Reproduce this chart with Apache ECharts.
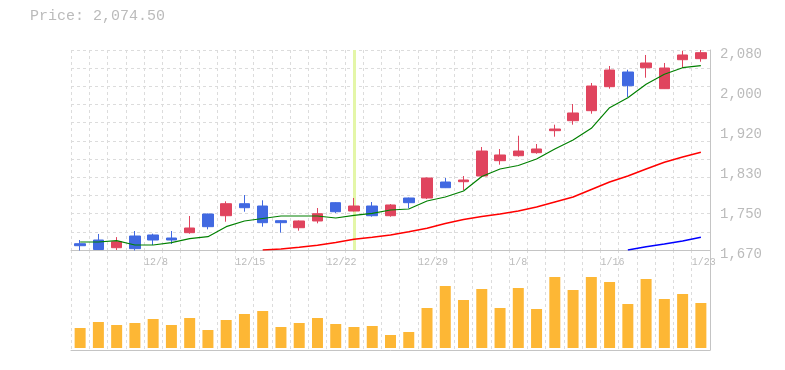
<!DOCTYPE html>
<html><head><meta charset="utf-8">
<script src="https://cdn.jsdelivr.net/npm/echarts@6/dist/echarts.min.js"></script>
<style>html,body{margin:0;padding:0;background:#fff}#c{width:785px;height:370px}</style>
</head><body><div id="c"></div>
<script>
const dates = ['12/2','12/3','12/4','12/5','12/8','12/9','12/10','12/11','12/12','12/15','12/16','12/17','12/18','12/19','12/22','12/23','12/24','12/25','12/26','12/29','12/30','1/5','1/6','1/7','1/8','1/9','1/13','1/14','1/15','1/16','1/19','1/20','1/21','1/22','1/23'];
const opens  = [1682.9,1690.5,1674.7,1698.7,1700.8,1694.6,1705.5,1743.8,1740.3,1764.9,1760.2,1730.1,1715.7,1729.5,1767.0,1749.9,1760.2,1740.3,1776.6,1776.6,1809.4,1810.0,1821.7,1853.1,1863.3,1869.5,1914.6,1935.1,1955.6,2004.8,2034.9,2043.7,2000.7,2060.1,2062.2];
const closes = [1678.8,1671.0,1687.0,1672.7,1690.5,1690.5,1715.1,1717.8,1764.9,1756.7,1726.0,1726.0,1729.5,1744.4,1748.5,1760.2,1740.3,1762.3,1767.0,1817.6,1797.7,1813.5,1872.9,1864.8,1872.9,1877.1,1918.0,1950.9,2006.2,2039.0,2006.8,2053.4,2043.1,2069.8,2074.5];
const lows   = [1669.0,1670.0,1670.0,1669.0,1680.2,1682.3,1703.4,1712.4,1728.0,1748.5,1717.8,1705.5,1709.6,1724.7,1745.9,1749.0,1738.3,1738.3,1755.5,1774.5,1797.0,1793.0,1819.7,1844.9,1861.3,1867.4,1902.3,1926.9,1949.4,2000.7,1983.7,2023.2,2000.0,2043.1,2056.0];
const highs  = [1690.5,1702.8,1696.4,1708.9,1703.4,1708.9,1739.7,1744.5,1769.8,1782.7,1771.9,1731.5,1730.5,1756.1,1768.0,1776.6,1768.4,1764.3,1777.5,1818.5,1817.6,1821.7,1881.2,1877.0,1904.3,1887.3,1926.9,1969.3,2012.4,2047.2,2039.6,2069.8,2053.4,2078.6,2080.0];
const ma5  = [1686.4,1686.4,1689.1,1680.3,1680.3,1685.0,1693.2,1697.3,1717.8,1729.5,1734.6,1739.7,1739.7,1739.7,1735.6,1741.1,1745.2,1752.0,1754.1,1770.5,1778.7,1791.0,1820.7,1836.1,1843.2,1856.6,1877.1,1895.5,1919.5,1961.7,1982.2,2009.7,2030.2,2043.7,2047.8];
const ma25 = [null,null,null,null,null,null,null,null,null,null,1670.0,1672.0,1675.5,1679.6,1685.4,1691.9,1696.0,1700.8,1707.5,1714.5,1724.3,1732.5,1738.7,1743.8,1750.0,1758.2,1768.4,1778.7,1794.0,1809.4,1821.7,1836.1,1849.8,1860.7,1870.3];
const ma75 = [null,null,null,null,null,null,null,null,null,null,null,null,null,null,null,null,null,null,null,null,null,null,null,null,null,null,null,null,null,null,1670.0,1676.8,1682.3,1688.5,1696.0];
const volumes = [20,26,23,25,29,23,30,18,28,34,37,21,25,30,24,21,22,13,16,40,62,48,59,40,60,39,71,58,71,66,44,69,49,54,45];
const dateLabelIdx = [4,9,14,19,24,29,34];
const highlightIdx = 15;
const lastPrice = 2074.5;
const priceMin = 1670, priceMax = 2080, priceStep = 82;

const FONT = '"Liberation Mono", "Courier New", monospace';
const GRID_LINE = {show:true, lineStyle:{color:'#dcdcdc', type:[3,3], width:1}};
const AXIS_LINE = {show:true, onZero:false, lineStyle:{color:'#c4c4c4', width:1}};

const chart = echarts.init(document.getElementById('c'), null, {renderer:'canvas'});
chart.setOption({
  animation:false,
  title:{text:'Price: ' + lastPrice.toLocaleString('en-US',{minimumFractionDigits:2}), left:30, top:9, padding:0,
    textStyle:{fontFamily:FONT, fontSize:15, fontWeight:'normal', color:'#bbbbbb'}},
  grid:[
    {left:71, right:75, top:50, height:200},
    {left:71, right:75, top:250, height:100}
  ],
  xAxis:[
    {type:'category', gridIndex:0, data:dates, boundaryGap:true, axisLine:AXIS_LINE, axisTick:{show:false}, axisLabel:{show:false},
      splitLine:Object.assign({interval:0}, GRID_LINE)},
    {type:'value', gridIndex:0, min:0, max:dates.length, position:'bottom', axisLine:{show:false}, axisTick:{show:false}, splitLine:{show:false},
      axisLabel:{show:true, customValues:dateLabelIdx, formatter:(v)=>dates[v], align:'left', margin:7,
        fontFamily:FONT, fontSize:10, color:'#bbbbbb'}},
    {type:'category', gridIndex:1, data:dates, boundaryGap:true, axisLine:AXIS_LINE, axisTick:{show:false}, axisLabel:{show:false},
      splitLine:Object.assign({interval:0}, GRID_LINE)}
  ],
  yAxis:[
    {type:'value', gridIndex:0, position:'right', min:priceMin, max:priceMax, interval:priceStep, scale:true,
      axisLine:AXIS_LINE, axisTick:{show:false}, splitLine:{show:false},
      axisLabel:{margin:10, fontFamily:FONT, fontSize:14, color:'#bbbbbb', verticalAlign:'top', lineHeight:8,
        formatter:(v)=>(Math.round(v/10)*10).toLocaleString('en-US')}},
    {type:'value', gridIndex:0, position:'left', min:0, max:11, interval:1,
      axisLine:{show:false}, axisTick:{show:false}, axisLabel:{show:false}, splitLine:GRID_LINE},
    {type:'value', gridIndex:1, position:'right', min:-2, max:98,
      axisLine:AXIS_LINE, axisTick:{show:false}, axisLabel:{show:false}, splitLine:{show:false}}
  ],
  series:[
    {type:'candlestick', xAxisIndex:0, yAxisIndex:0, barWidth:11, z:3,
      data:dates.map((d,i)=>[opens[i], closes[i], lows[i], highs[i]]),
      itemStyle:{color:'#e0445e', color0:'#4169e1', borderColor:'#e0445e', borderColor0:'#4169e1', borderWidth:1},
      markLine:{silent:true, z:1, symbol:['none','none'], label:{show:false},
        lineStyle:{color:'#e4f6a8', width:3, type:'solid'}, data:[{xAxis:dates[highlightIdx]}]}},
    {type:'line', xAxisIndex:0, yAxisIndex:0, data:ma5, symbol:'none', z:4, lineStyle:{color:'#008000', width:1.2}},
    {type:'line', xAxisIndex:0, yAxisIndex:0, data:ma25, symbol:'none', z:4, lineStyle:{color:'#ff0000', width:1.5}},
    {type:'line', xAxisIndex:0, yAxisIndex:0, data:ma75, symbol:'none', z:4, lineStyle:{color:'#0000ff', width:1.5}},
    {type:'bar', xAxisIndex:2, yAxisIndex:2, data:volumes, barWidth:11, itemStyle:{color:'#fdb735'}}
  ]
});
</script></body></html>
